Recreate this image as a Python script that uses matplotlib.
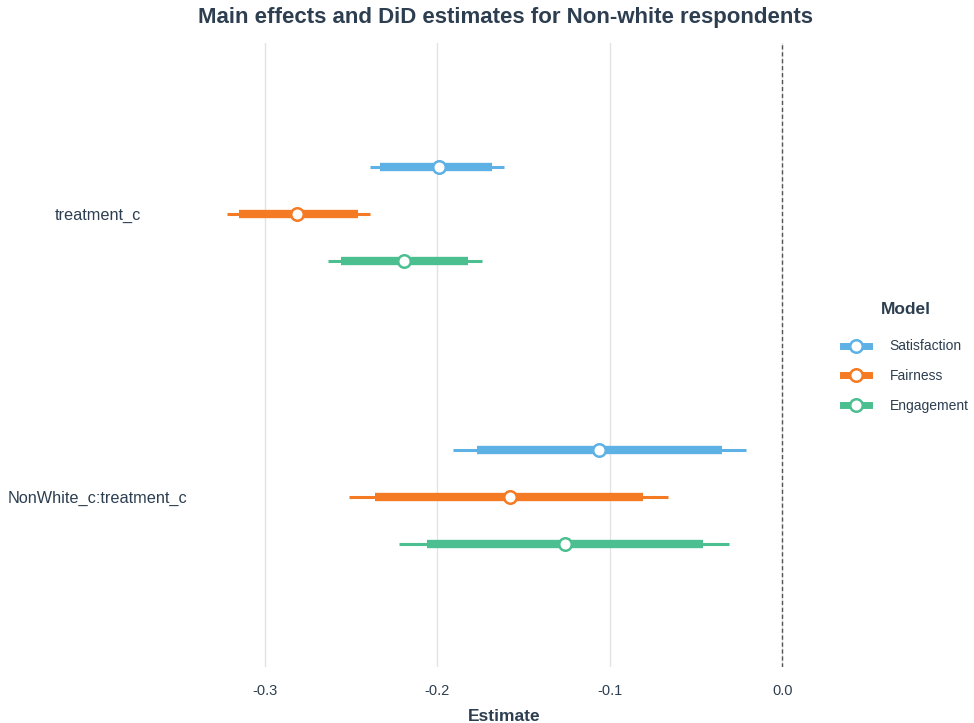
import numpy as np
import matplotlib
matplotlib.use("Agg")
import matplotlib.pyplot as plt
from matplotlib.lines import Line2D

plt.rcParams['font.family'] = ['Liberation Sans', 'DejaVu Sans']

terms = ["treatment_c", "NonWhite_c:treatment_c"]
models = ["Satisfaction", "Fairness", "Engagement"]
colors = ["#5DB1E4", "#F57A24", "#4CBF91"]

# estimate, inner interval (thick), outer interval (thin); rows follow terms
estimate = {
    "Satisfaction": [-0.199, -0.106],
    "Fairness": [-0.281, -0.158],
    "Engagement": [-0.219, -0.126],
}
inner_lo = {
    "Satisfaction": [-0.233, -0.177],
    "Fairness": [-0.315, -0.236],
    "Engagement": [-0.256, -0.206],
}
inner_hi = {
    "Satisfaction": [-0.168, -0.035],
    "Fairness": [-0.246, -0.081],
    "Engagement": [-0.182, -0.046],
}
outer_lo = {
    "Satisfaction": [-0.239, -0.191],
    "Fairness": [-0.322, -0.251],
    "Engagement": [-0.263, -0.222],
}
outer_hi = {
    "Satisfaction": [-0.161, -0.021],
    "Fairness": [-0.239, -0.066],
    "Engagement": [-0.174, -0.031],
}

txt = "#2C3E50"

fig = plt.figure(figsize=(9.74, 7.23), dpi=100)
ax = fig.add_axes([199/974, 1-667/723, (810-199)/974, (667-43)/723])

ypos = [2, 1]
offsets = [0.166, 0.0, -0.166]
for m, model in enumerate(models):
    c = colors[m]
    for t in range(len(terms)):
        y = ypos[t] + offsets[m]
        ax.plot([outer_lo[model][t], outer_hi[model][t]], [y, y], color=c, lw=2.2,
                solid_capstyle='butt', zorder=2)
        ax.plot([inner_lo[model][t], inner_hi[model][t]], [y, y], color=c, lw=6,
                solid_capstyle='butt', zorder=3)
        ax.plot(estimate[model][t], y, 'o', ms=9, mfc='white', mec=c, mew=1.8, zorder=4)

ax.axvline(0, color="#555555", lw=1, ls=(0, (3, 2)), zorder=1)

ax.set_xlim(-0.338, 0.016)
ax.set_ylim(0.399, 2.604)
ax.set_xticks([-0.3, -0.2, -0.1, 0.0])
ax.set_xticklabels(["-0.3", "-0.2", "-0.1", "0.0"])
ax.set_yticks(ypos)
ax.set_yticklabels(terms, ha='center')
ax.tick_params(axis='y', length=0, pad=73, labelsize=11.7, labelcolor=txt)
ax.tick_params(axis='x', length=0, pad=12, labelsize=10.5, labelcolor=txt)
ax.grid(axis='x', color="#E3E3E3", lw=1)
ax.set_axisbelow(True)
for s in ax.spines.values():
    s.set_visible(False)

ax.set_xlabel("Estimate", fontsize=12.5, fontweight='bold', color=txt, labelpad=8)
fig.text(505/974, 1-18/723, "Main effects and DiD estimates for Non-white respondents",
         ha='center', va='center', fontsize=16, fontweight='bold', color=txt)

fig.text(906/974, 1-309/723, "Model", ha='center', va='center',
         fontsize=12.5, fontweight='bold', color=txt)
handles = [Line2D([0], [0], color=c, lw=5, marker='o', ms=9, mfc='white', mec=c, mew=1.8)
           for c in colors]
leg = fig.legend(handles, models, loc='center left',
                 bbox_to_anchor=(830/974, 1-376/723), frameon=False,
                 fontsize=10, handlelength=1.9, labelspacing=1.12, handletextpad=1.5)
for t in leg.get_texts():
    t.set_color(txt)

fig.savefig("out.png", dpi=100)
